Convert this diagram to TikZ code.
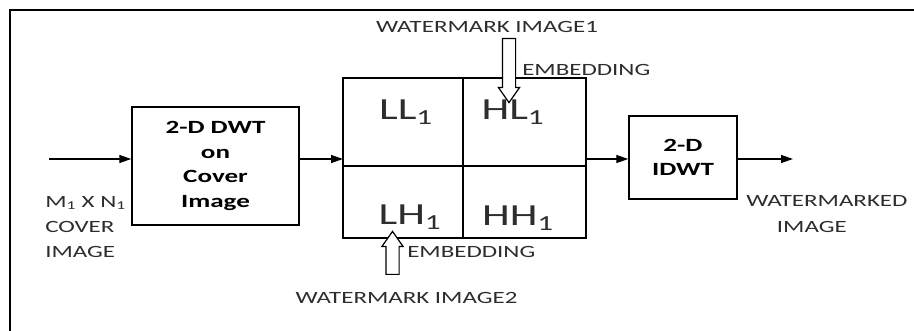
\documentclass[tikz,border=0pt]{standalone}
\usepackage{fontspec}
\setmainfont[FakeStretch=1.45]{Carlito}
\usetikzlibrary{arrows.meta,positioning,shapes.arrows,calc}
\definecolor{txt}{RGB}{45,45,45}
\tikzset{
  blockbox/.style={rectangle,draw=black,line width=1.1pt,align=center,font=\fontsize{14}{18.5}\selectfont\bfseries},
  cell/.style={rectangle,draw=black,line width=1pt,outer sep=0pt,inner sep=0pt},
  sub/.style={text=txt,inner sep=0pt,font=\fontsize{23}{28}\selectfont},
  lbl/.style={text=txt,inner sep=0pt,font=\fontsize{12.9}{19}\selectfont},
  link/.style={-{Triangle[length=9pt,width=6pt]},line width=1pt},
  % hollow block arrow for the embedding steps
  hollow/.style={single arrow,draw=black,fill=white,line width=0.9pt,
    inner xsep=0pt,inner ysep=4.5pt,minimum width=15pt,
    single arrow head extend=3pt,single arrow tip angle=70},
}
\begin{document}
\begin{tikzpicture}[x=0.75pt,y=-0.75pt]
\useasboundingbox (0,0) rectangle (914,331);
\draw[line width=1.5pt] (10,331) -- (10,10) -- (914,10);

% blocks
\node[blockbox,minimum width=125.25pt,minimum height=88.5pt] (dwt) at (215.5,166) {2-D DWT\\on\\Cover\\Image};
\node[cell,minimum width=90pt,minimum height=66pt] (ll) at (403,122) {};
\node[cell,minimum width=92.25pt,minimum height=66pt,right=0pt of ll] (hl) {};
\node[cell,minimum width=90pt,minimum height=54pt,below=0pt of ll] (lh) {};
\node[cell,minimum width=92.25pt,minimum height=54pt,right=0pt of lh] (hh) {};
\node[blockbox,minimum width=81pt,minimum height=62.25pt] (idwt) at (683,157.5) {2-D\\IDWT};

% sub-band names
\node[sub] (llt) at ($(ll.center)+(3,-10)$) {LL\textsubscript{1}};
\node[sub] (hlt) at ($(hl.center)+(-11.5,-10)$) {HL\textsubscript{1}};
\node[sub] (lht) at ($(lh.center)+(7,15)$) {LH\textsubscript{1}};
\node[sub] (hht) at ($(hh.center)+(-6.5,16)$) {HH\textsubscript{1}};

% signal flow
\coordinate (in) at (49,159);
\coordinate (out) at (793,159);
\draw[link] (in) -- (in -| dwt.west);
\draw[link] (dwt.east |- in) -- (ll.west |- in);
\draw[link] (hl.east |- in) -- (idwt.west |- in);
\draw[link] (idwt.east |- in) -- (out);

% labels
\node[lbl,align=left,anchor=west] (cover) at (45,227) {M\textsubscript{1} X N\textsubscript{1}\\COVER\\IMAGE};
\node[lbl,align=left,anchor=west] (wmd) at (746,214) {WATERMARKED\\\hspace*{23pt}IMAGE};
\node[lbl] (wm1) at (487,27) {WATERMARK IMAGE1};
\node[lbl,anchor=west] (emb1) at (522,70) {EMBEDDING};
\node[lbl,anchor=west] (emb2) at (407,252) {EMBEDDING};
\node[lbl] (wm2) at (406.5,298) {WATERMARK IMAGE2};

% embedding arrows
\node[hollow,rotate=-90,minimum height=48pt,anchor=tail] (arr1) at (509,38) {};
\node[hollow,rotate=90,minimum height=32.25pt,anchor=tail] (arr2) at (392.5,275) {};
\end{tikzpicture}
\end{document}
